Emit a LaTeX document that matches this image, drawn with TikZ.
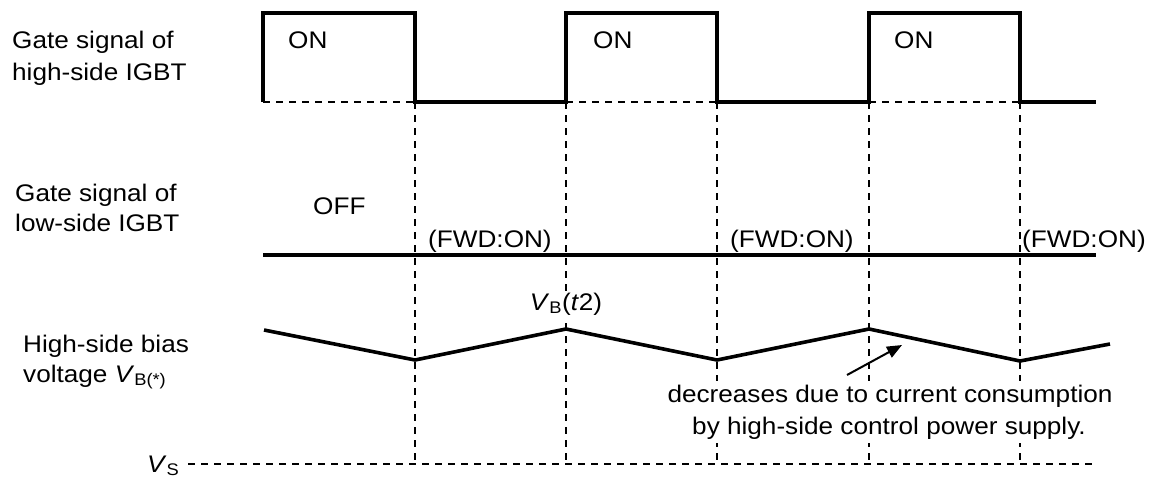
\documentclass[tikz,border=0pt]{standalone}
\usepackage{fontspec}
\setmainfont{Liberation Sans}
\usetikzlibrary{arrows.meta}
\newcommand{\wtxt}[1]{\scalebox{1.09}[1]{#1}}
\begin{document}
\begin{tikzpicture}[x=1pt,y=-1pt,
  wave/.style={line width=3.6pt, line join=miter},
  guide/.style={line width=1.4pt, dash pattern=on 7pt off 6pt},
  lbl/.style={font=\fontsize{24}{28}\selectfont, inner sep=0pt},
  note/.style={lbl, fill=white, inner xsep=3pt, inner ysep=4pt},
  pointer/.style={line width=2pt, -{Triangle[length=15pt,width=12pt]}}]
\useasboundingbox (0,0) rectangle (1149,477);
% high-side gate coordinates
\coordinate (h0)  at (263,102);
\coordinate (h0t) at (263,13);
\coordinate (t1t) at (415,13);
\coordinate (t1b) at (415,102);
\coordinate (t2b) at (566,102);
\coordinate (t2t) at (566,13);
\coordinate (t3t) at (717,13);
\coordinate (t3b) at (717,102);
\coordinate (t4b) at (869,102);
\coordinate (t4t) at (869,13);
\coordinate (t5t) at (1020,13);
\coordinate (t5b) at (1020,102);
\coordinate (hend) at (1096,102);
% low-side gate
\coordinate (l0) at (263,255);
\coordinate (l1) at (1096,255);
% bias voltage
\coordinate (b0) at (264,330);
\coordinate (b1) at (415,360);
\coordinate (b2) at (566,329);
\coordinate (b3) at (717,360);
\coordinate (b4) at (869,329);
\coordinate (b5) at (1020,361);
\coordinate (b6) at (1110,344);
% Vs reference
\coordinate (vs0) at (188,464);
\coordinate (vs1) at (1096,464);
% arrow
\coordinate (atail) at (847,375);
\coordinate (atip) at (902,345);

% guides
\draw[guide] (vs0) -- (vs1);
\foreach \t in {t1b,t2b,t3b,t4b,t5b} \draw[guide] (\t) -- (\t |- vs0);
\draw[guide] (h0) -- (t1b);
\draw[guide] (t2b) -- (t3b);
\draw[guide] (t4b) -- (t5b);

% waveforms
\draw[wave] (h0) -- (h0t) -- (t1t) -- (t1b) -- (t2b) -- (t2t) -- (t3t) -- (t3b) -- (t4b) -- (t4t) -- (t5t) -- (t5b) -- (hend);
\draw[wave] (l0) -- (l1);
\draw[wave] (b0) -- (b1) -- (b2) -- (b3) -- (b4) -- (b5) -- (b6);

% row labels
\node[lbl, anchor=base west] (hs1) at (12,48) {\wtxt{Gate signal of}};
\node[lbl, anchor=base west] (hs2) at (12,80) {\wtxt{high-side IGBT}};
\node[lbl, anchor=base west] (ls1) at (15,201) {\wtxt{Gate signal of}};
\node[lbl, anchor=base west] (ls2) at (15,231) {\wtxt{low-side IGBT}};
\node[lbl, anchor=base west] (bv1) at (23,352) {\wtxt{High-side bias}};
\node[lbl, anchor=base west] (bv2) at (23,382) {\wtxt{voltage \textit{V}\textsubscript{B(*)}}};
\node[lbl, anchor=base west] (vs) at (147,472) {\wtxt{\textit{V}\textsubscript{S}}};

% state labels
\node[lbl, anchor=base west] (on1) at (288,48) {\wtxt{ON}};
\node[lbl, anchor=base west] (on2) at (593,48) {\wtxt{ON}};
\node[lbl, anchor=base west] (on3) at (894,48) {\wtxt{ON}};
\node[lbl, anchor=base west] (off) at (313,214) {\wtxt{OFF}};
\node[lbl, anchor=base west] (fwd1) at (428,247) {\wtxt{(FWD:ON)}};
\node[lbl, anchor=base west] (fwd2) at (730,247) {\wtxt{(FWD:ON)}};
\node[lbl, anchor=base west] (fwd3) at (1022,247) {\wtxt{(FWD:ON)}};
\node[lbl, anchor=base, fill=white, inner sep=2pt] (vbt2) at (566,310) {\wtxt{\textit{V}\textsubscript{B}(\textit{t}2)}};

% annotation
\node[note, anchor=base] (n1) at (890,402) {\wtxt{decreases due to current consumption}};
\node[note, anchor=base] (n2) at (889,434) {\wtxt{by high-side control power supply.}};
\draw[pointer] (atail) -- (atip);
\end{tikzpicture}
\end{document}
